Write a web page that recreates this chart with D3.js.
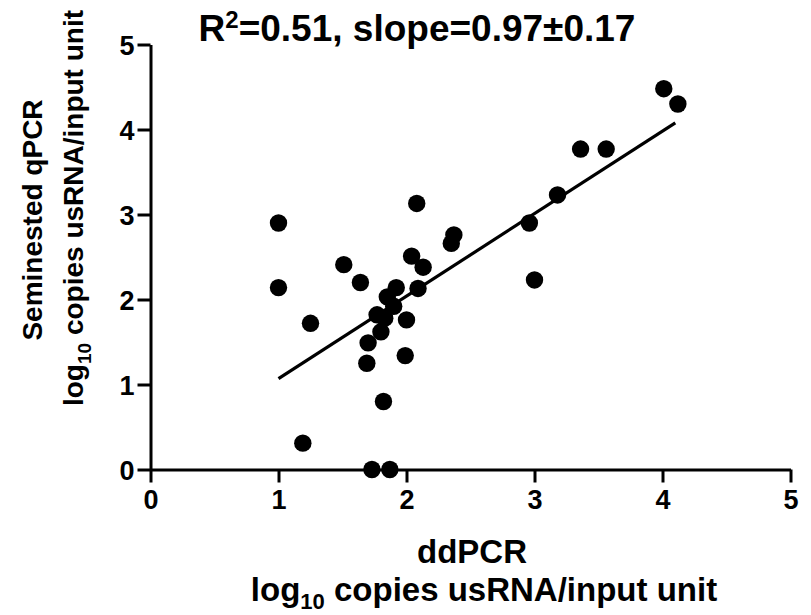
<!DOCTYPE html>
<html><head><meta charset="utf-8">
<script src="https://cdn.jsdelivr.net/npm/d3@7"></script>
<style>
body{margin:0;background:#fff;}
text{font-family:"Liberation Sans",Arial,sans-serif;font-weight:bold;fill:#000;}
</style></head>
<body>
<svg id="chart" width="811" height="615"></svg>
<script>
const ddPCR = [1.00,1.00,1.19,1.25,1.51,1.64,1.69,1.70,1.73,1.77,1.80,1.82,1.83,1.85,1.87,1.90,1.92,1.99,2.00,2.04,2.08,2.09,2.13,2.35,2.37,2.96,3.00,3.18,3.36,3.56,4.01,4.12];
const qPCR  = [2.90,2.14,0.31,1.72,2.41,2.20,1.25,1.49,0.00,1.82,1.62,0.80,1.78,2.03,0.00,1.92,2.14,1.34,1.76,2.51,3.13,2.13,2.38,2.66,2.76,2.90,2.23,3.23,3.77,3.77,4.48,4.30];
const xTicks = [0,1,2,3,4,5];
const yTicks = [0,1,2,3,4,5];
const fitSlope = 0.97, fitIntercept = 0.10;
const fitRange = [1.00, 4.10];

const svg = d3.select("#chart");
const x = d3.scaleLinear().domain([0,5]).range([150.5,790.5]);
const y = d3.scaleLinear().domain([0,5]).range([469.5,44.5]);

// axes
const xAxis = svg.append("g").attr("transform","translate(0,469.5)")
  .call(d3.axisBottom(x).tickValues(xTicks).tickFormat(d3.format("d")).tickSize(13).tickSizeOuter(0).tickPadding(7));
const yAxis = svg.append("g").attr("transform","translate(150.5,0)")
  .call(d3.axisLeft(y).tickValues(yTicks).tickFormat(d3.format("d")).tickSize(13).tickSizeOuter(0).tickPadding(3));
[xAxis,yAxis].forEach(g=>{
  g.selectAll("path.domain").attr("stroke","#000").attr("stroke-width",3);
  g.selectAll(".tick line").attr("stroke","#000").attr("stroke-width",3);
  g.selectAll(".tick text").style("font-size","27px").style("font-family","'Liberation Sans',Arial,sans-serif").style("font-weight","bold").attr("fill","#000");
});
yAxis.selectAll(".tick text").attr("dy","0.36em");

// regression line
svg.append("line")
  .attr("x1",x(fitRange[0])).attr("y1",y(fitIntercept+fitSlope*fitRange[0]))
  .attr("x2",x(fitRange[1])).attr("y2",y(fitIntercept+fitSlope*fitRange[1]))
  .attr("stroke","#000").attr("stroke-width",3.2);

// points
svg.append("g").selectAll("circle").data(ddPCR.map((d,i)=>[d,qPCR[i]])).join("circle")
  .attr("cx",d=>x(d[0])).attr("cy",d=>y(d[1])).attr("r",8.7).attr("fill","#000");

// title
const t = svg.append("text").attr("x",417).attr("y",41).attr("text-anchor","middle").style("font-size","37px");
t.append("tspan").text("R");
t.append("tspan").text("2").style("font-size","24px").attr("dy",-13);
t.append("tspan").text("=0.51, slope=0.97±0.17").attr("dy",13);

// x title
svg.append("text").attr("x",472).attr("y",563).attr("text-anchor","middle").style("font-size","33px").text("ddPCR");
const xt = svg.append("text").attr("x",484).attr("y",601).attr("text-anchor","middle").style("font-size","33px");
xt.append("tspan").text("log");
xt.append("tspan").text("10").style("font-size","22px").attr("dy",8);
xt.append("tspan").text(" copies usRNA/input unit").attr("dy",-8);

// y titles
svg.append("text").attr("transform","translate(42,220) rotate(-90)").attr("text-anchor","middle").style("font-size","28px").text("Seminested qPCR");
const yt = svg.append("text").attr("transform","translate(83,208) rotate(-90)").attr("text-anchor","middle").style("font-size","28px");
yt.append("tspan").text("log");
yt.append("tspan").text("10").style("font-size","19px").attr("dy",8);
yt.append("tspan").text(" copies usRNA/input unit").attr("dy",-8);
</script>
</body></html>
